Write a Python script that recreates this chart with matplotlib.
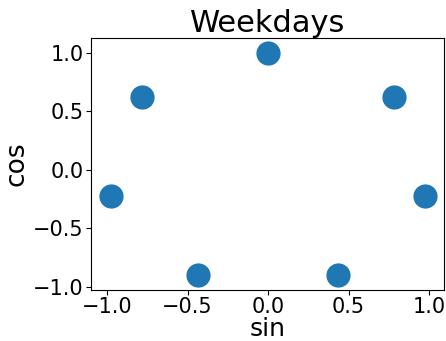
import matplotlib
matplotlib.use('Agg')
import matplotlib.pyplot as plt

# weekday positions
sin_vals = [0.0, 0.78, 0.975, 0.435, -0.435, -0.975, -0.78]
cos_vals = [1.0, 0.62, -0.22, -0.90, -0.90, -0.22, 0.62]

fig = plt.figure(figsize=(4.46, 3.41), dpi=100)
ax = fig.add_axes([0.204, 0.150, 0.792, 0.739])

ax.scatter(sin_vals, cos_vals, s=270, color='#1f77b4')

ax.set_xlim(-1.099, 1.093)
ax.set_ylim(-1.026, 1.128)
ax.set_xticks([-1.0, -0.5, 0.0, 0.5, 1.0])
ax.set_yticks([-1.0, -0.5, 0.0, 0.5, 1.0])
ax.tick_params(labelsize=15, pad=2)

ax.set_xlabel('sin', fontsize=18, labelpad=0)
ax.set_ylabel('cos', fontsize=19, labelpad=2)
ax.set_title('Weekdays', fontsize=22, pad=3)

plt.savefig('out.png', dpi=100)
